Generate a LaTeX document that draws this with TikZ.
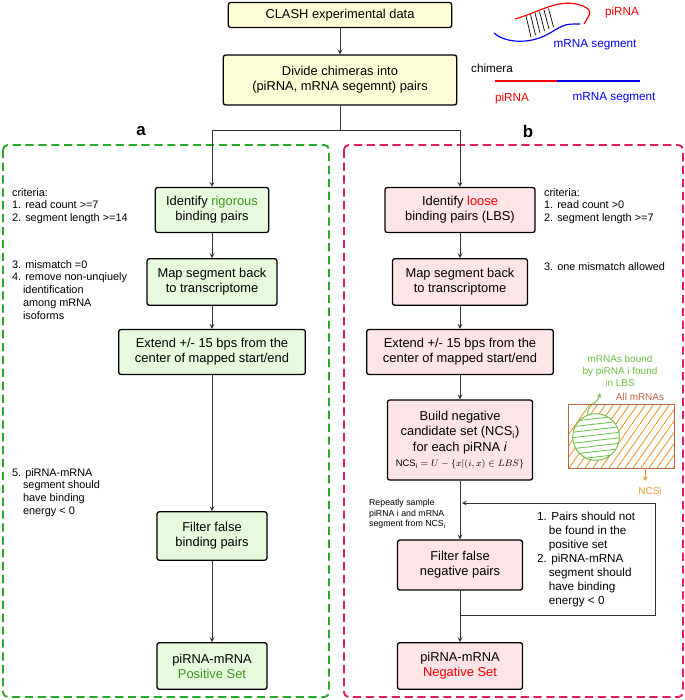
\documentclass[tikz,border=0pt]{standalone}
\usepackage{amsmath}
\usepackage{fontspec}
\setmainfont{Liberation Sans}
\usepackage{xcolor}
\definecolor{verdeBorde}{RGB}{40, 170, 40}
\definecolor{verdeTexto}{RGB}{60, 150, 30}
\definecolor{rojoBorde}{RGB}{225, 30, 90}
\definecolor{rosaFondo}{RGB}{253, 228, 230}
\definecolor{verdeFondo}{RGB}{232, 250, 222}
\definecolor{amarilloFondo}{RGB}{255, 255, 215}
\definecolor{naranja}{RGB}{240, 150, 40}
\definecolor{marron}{RGB}{190, 100, 70}
\definecolor{venn}{RGB}{110, 190, 70}
\usetikzlibrary{arrows,shapes,calc,positioning}
\tikzstyle{box}   =[draw, line width=1.1pt, rounded corners=2pt,
                    align=center, font=\fontsize{11}{13}\selectfont,
                    inner sep=2pt]
\tikzstyle{gbox}  =[box, fill=verdeFondo]
\tikzstyle{rbox}  =[box, fill=rosaFondo]
\tikzstyle{edge}  =[->, >=stealth, line width=0.8pt, black!80]
\tikzstyle{note}  =[align=left, anchor=north west,
                    font=\fontsize{9.3}{11}\selectfont]
\tikzstyle{frame} =[dashed, line width=1.6pt, rounded corners=4pt,
                    dash pattern=on 7pt off 4pt]

\begin{document}
\begin{tikzpicture}[x=0.03cm,y=-0.03cm]
    \useasboundingbox (0,0) rectangle (685,700);

    % frames
    \draw [frame,verdeBorde] (3,145) rectangle (329,697);
    \draw [frame,rojoBorde] (344,145) rectangle (683,697);
    \node (a) at (141,131) {\bfseries\Large a};
    \node (b) at (528,131) {\bfseries\Large b};

    % top boxes
    \node (clash) [box, fill=amarilloFondo, minimum width=6.7cm,
        minimum height=0.75cm] at (340,15) {CLASH experimental data};
    \node (divide) [box, fill=amarilloFondo, minimum width=7cm,
        minimum height=1.5cm] at (340,80) {Divide chimeras into\\(piRNA, mRNA segemnt) pairs};
    \draw [edge] (clash) -- (divide);
    \coordinate (split) at (340,130);
    \coordinate (splitA) at (212,130);
    \coordinate (splitB) at (460,130);
    \draw [line width=0.8pt, black!80] (divide) -- (split);
    \draw [line width=0.8pt, black!80] (splitA) -- (splitB);

    % column a
    \node (idA) [gbox, minimum width=3.4cm, minimum height=1.35cm] at (212,210)
        {Identify {\color{verdeTexto}rigorous}\\binding pairs};
    \node (mapA) [gbox, minimum width=3.9cm, minimum height=1.4cm] at (212,282)
        {Map segment back\\to transcriptome};
    \node (extA) [gbox, minimum width=5.6cm, minimum height=1.35cm] at (212,352)
        {Extend +/- 15 bps from the\\center of mapped start/end};
    \node (filA) [gbox, minimum width=3.3cm, minimum height=1.45cm] at (212,536)
        {Filter false\\binding pairs};
    \node (posA) [gbox, minimum width=3.3cm, minimum height=1.4cm] at (212,666)
        {piRNA-mRNA\\{\color{verdeTexto}Positive Set}};

    % column b
    \node (idB) [rbox, minimum width=4.5cm, minimum height=1.35cm] at (460,210)
        {Identify {\color{red}loose}\\binding pairs (LBS)};
    \node (mapB) [rbox, minimum width=4.05cm, minimum height=1.4cm] at (460,282)
        {Map segment back\\to transcriptome};
    \node (extB) [rbox, minimum width=5.6cm, minimum height=1.35cm] at (460,352)
        {Extend +/- 15 bps from the\\center of mapped start/end};
    \node (build) [rbox, minimum width=4.35cm, minimum height=2.4cm] at (460,440)
        {Build negative\\candidate set (NCS\textsubscript{i})\\for each piRNA \textit{i}\\
         {\fontsize{8}{10}\selectfont $\mathrm{NCS_i}=U-\{x|(i,x)\in LBS\}$}};
    \node (filB) [rbox, minimum width=3.75cm, minimum height=1.5cm] at (460,565)
        {Filter false\\negative pairs};
    \node (negB) [rbox, minimum width=3.75cm, minimum height=1.4cm] at (460,666)
        {piRNA-mRNA\\{\color{red}Negative Set}};

    \draw [edge] (splitA) -- (idA);
    \draw [edge] (splitB) -- (idB);
    \foreach \i/\j in {idA/mapA, mapA/extA, extA/filA, filA/posA,
                       idB/mapB, mapB/extB, extB/build, build/filB, filB/negB}
        \draw [edge] (\i) -- (\j);

    % feedback loop
    \coordinate (loopA) at (460,615);
    \coordinate (loopB) at (655,615);
    \coordinate (loopC) at (655,503);
    \coordinate (loopD) at (462,503);
    \draw [edge] (loopA) -- (loopB) -- (loopC) -- (loopD);

    % notes a
    \node (nA1) [note] at (8,184) {criteria:\\1. read count >=7\\2. segment length >=14};
    \node (nA2) [note] at (8,256) {3. mismatch =0\\4. remove non-unqiuely\\
        \hspace*{1em}identification\\\hspace*{1em}among mRNA\\\hspace*{1em}isoforms};
    \node (nA3) [note] at (8,464) {5. piRNA-mRNA\\\hspace*{1em}segment should\\
        \hspace*{1em}have binding\\\hspace*{1em}energy < 0};

    % notes b
    \node (nB1) [note] at (540,184) {criteria:\\1. read count >0\\2. segment length >=7};
    \node (nB2) [note] at (540,258) {3. one mismatch allowed};
    \node (nB3) [note, font=\fontsize{7.5}{9}\selectfont] at (365,495)
        {Repeatly sample\\piRNA i and mRNA\\segment from NCS\textsubscript{i}};
    \node (nB4) [note, font=\fontsize{10}{12}\selectfont] at (533,508)
        {1. Pairs should not\\\hspace*{1em}be found in the\\\hspace*{1em}positive set\\
         2. piRNA-mRNA\\\hspace*{1em}segment should\\\hspace*{1em}have binding\\
         \hspace*{1em}energy < 0};

    % venn diagram
    \begin{scope}
        \clip (568,404) rectangle (674,468);
        \foreach \k in {0,...,16}
            \draw [naranja, line width=0.7pt] ({545+8*\k},468) -- ({590+8*\k},404);
    \end{scope}
    \draw [marron, line width=0.8pt] (568,404) rectangle (674,468);
    \node (circ) [circle, draw=venn, line width=0.8pt, fill=white,
        minimum size=1.4cm, inner sep=0pt] at (596,437) {};
    \begin{scope}
        \clip (596,437) circle (23);
        \foreach \k in {0,...,8}
            \draw [venn, line width=0.7pt] (570,{416+5.5*\k}) -- (622,{410+5.5*\k});
    \end{scope}
    \node (lbs) [venn, align=center, font=\fontsize{8.5}{10}\selectfont] at (620,371)
        {mRNAs bound\\by piRNA i found\\in LBS};
    \node (all) [marron, font=\fontsize{8.5}{10}\selectfont] at (640,397) {All mRNAs};
    \coordinate (arrG) at (600,393);
    \draw [->, >=stealth, venn, line width=0.8pt] (circ.110) to[out=100,in=260] (arrG);
    \coordinate (rectB) at (645,468);
    \node (ncs) [naranja, font=\fontsize{8.5}{10}\selectfont] at (650,491) {NCSi};
    \draw [->, >=stealth, naranja, line width=0.8pt] (rectB) -- (645,481);

    % top-right sketch
    \draw [red, line width=1pt] (515,19) .. controls (540,12) and (560,-3) .. (583,6)
        .. controls (592,11) .. (584,24);
    \draw [blue, line width=1pt] (494,33) .. controls (505,43) and (530,45) .. (550,33)
        .. controls (565,24) .. (580,24);
    \foreach \k in {0,...,5}
        \draw [line width=0.6pt] ({526+4.5*\k},{16-1.5*\k}) -- ({531+4.5*\k},{37-2*\k});
    \node (piR) [red] at (622,12) {piRNA};
    \node (mseg) [blue] at (595,45) {mRNA segment};
    \node (chim) at (492,68) {chimera};
    \coordinate (chA) at (495,81);
    \coordinate (chB) at (557,81);
    \coordinate (chC) at (640,81);
    \draw [red, line width=0.9pt] (chA) -- (chB);
    \draw [blue, line width=0.9pt] (chB) -- (chC);
    \node (piR2) [red] at (512,98) {piRNA};
    \node (mseg2) [blue] at (614,98) {mRNA segment};
\end{tikzpicture}
\end{document}
